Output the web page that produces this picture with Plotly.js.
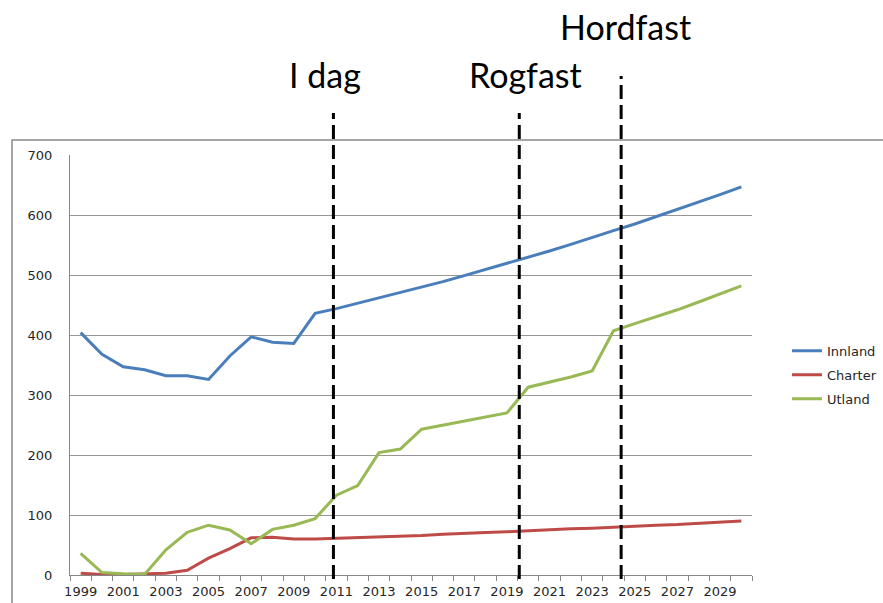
<!DOCTYPE html>
<html>
<head>
<meta charset="utf-8">
<script src="https://cdn.plot.ly/plotly-3.0.1.min.js"></script>
<style>html,body{margin:0;padding:0;background:#fff}#chart{width:883px;height:603px}</style>
</head>
<body>
<div id="chart"></div>
<script>
const years = [1999,2000,2001,2002,2003,2004,2005,2006,2007,2008,2009,2010,2011,2012,2013,2014,2015,2016,2017,2018,2019,2020,2021,2022,2023,2024,2025,2026,2027,2028,2029,2030];
const innland = [404,368,347,342,332,332,326,365,397,388,386,436,444,453,461,470,480,489,499,509,519,530,540,551,563,574,585,597,609,621,634,647];
const charter = [3,1,1,2,3,8,28,44,62,63,60,60,61,63,64,65,66,68,70,71,72,74,75,77,78,80,81,83,84,86,88,90];
const utland  = [36,4,2,1,42,71,83,75,52,76,83,94,133,149,204,210,243,250,257,263,270,313,321,330,340,407,419,430,442,455,468,482];
const seriesNames = ['Innland','Charter','Utland'];
const tickYears = [1999,2001,2003,2005,2007,2009,2011,2013,2015,2017,2019,2021,2023,2025,2027,2029];
const tickLabels = tickYears.map(String);
const eventLabels = ['I dag','Rogfast','Hordfast'];
const eventX = [2010.86, 2019.58, 2024.36];

const colors = ['#4A7EBB','#BE4B48','#98B954'];
const tickFont = {family:'DejaVu Sans', size:13, color:'#262626'};

const dataSeries = [innland, charter, utland];
const traces = dataSeries.map((vals,i)=>({
  x: years, y: vals, type:'scatter', mode:'lines', name: seriesNames[i],
  line:{color:colors[i], width:3}, legend: i===0?'legend':'legend'+(i+1)
}));

const lineTops = [1.1, 1.1, 1.188];
const labelX = [2010.47, 2019.87, 2024.57];
const labelY = [1.191, 1.191, 1.305];

const shapes = eventX.map((x,i)=>({
  type:'line', xref:'x', yref:'paper', x0:x, x1:x, y0:-0.0095, y1:lineTops[i],
  line:{color:'#000', width:3, dash:'14px,6px'}
}));
shapes.push({type:'rect', xref:'paper', yref:'paper', x0:-0.085, x1:1.3, y0:-0.3, y1:1.0357,
  line:{color:'#888888', width:1.5}, fillcolor:'rgba(0,0,0,0)', layer:'below'});

const annotations = eventLabels.map((t,i)=>({
  text:t, xref:'x', yref:'paper', x:labelX[i], y:labelY[i], showarrow:false,
  font:{family:'Lato', size:34, color:'#000'}, xanchor:'center', yanchor:'middle'
}));

const legBase = {font:tickFont, bgcolor:'rgba(0,0,0,0)', borderwidth:0, xanchor:'left', yanchor:'middle', itemwidth:30};
const layout = {
  width:883, height:603,
  margin:{l:70, r:131, t:155, b:28, autoexpand:false},
  paper_bgcolor:'#fff', plot_bgcolor:'#fff',
  showlegend:true,
  legend: Object.assign({}, legBase, {x:1.0513, y:(575-350.7)/420}),
  legend2: Object.assign({}, legBase, {x:1.0513, y:(575-374.7)/420}),
  legend3: Object.assign({}, legBase, {x:1.0513, y:(575-398.7)/420}),
  xaxis:{
    range:[1998.5, 2030.5], tickmode:'array', tickvals:tickYears, ticktext:tickLabels,
    ticks:'', showgrid:false, zeroline:false, showline:true, linecolor:'#868686', linewidth:1,
    tickfont:tickFont, ticklabelstandoff:4, automargin:false,
    minor:{tickmode:'linear', tick0:1998.5, dtick:1, ticks:'outside', ticklen:5, tickcolor:'#868686', tickwidth:1, showgrid:false}
  },
  yaxis:{
    range:[0,700], dtick:100, tick0:0, showgrid:true, gridcolor:'#969696', gridwidth:1,
    zeroline:false, showline:true, linecolor:'#868686', linewidth:1, ticks:'', tickfont:tickFont,
    ticklabelstandoff:14, automargin:false
  },
  shapes: shapes,
  annotations: annotations
};
Plotly.newPlot('chart', traces, layout, {displayModeBar:false, staticPlot:true});
</script>
</body>
</html>
